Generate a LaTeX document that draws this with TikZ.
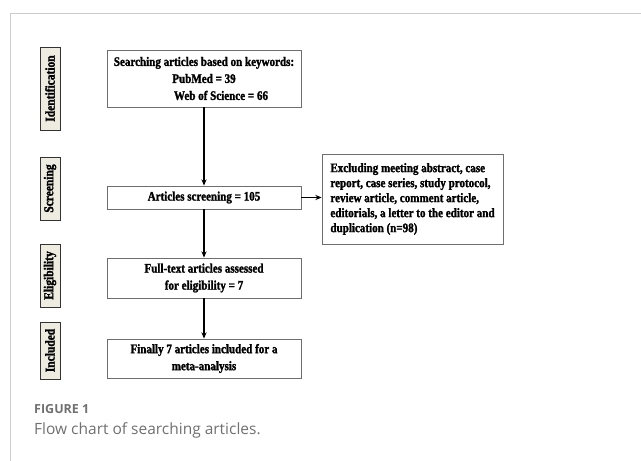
\documentclass[tikz,border=0pt]{standalone}
\usepackage{fontspec}
\setmainfont{Liberation Serif}
\newfontfamily\boxfont[FakeStretch=0.85, FakeBold=1.6, UprightFont=*-Bold]{Liberation Serif}
\newfontfamily\capfont{Open Sans}
\usepackage{tikz}
\usepackage{xcolor}
\usetikzlibrary{arrows.meta, positioning, calc}
\definecolor{cFrame}{RGB}{204,204,204}
\definecolor{cStage}{RGB}{238,236,225}
\definecolor{cEdge}{RGB}{110,110,110}
\definecolor{cCap}{RGB}{112,112,112}
\tikzset{
	stagebox/.style ={rectangle, draw=black!80, line width=0.8pt, fill=cStage, rotate=90, minimum height=20pt, inner sep=0pt, font=\boxfont\fontsize{13.5}{14}\selectfont},
	flowbox/.style  ={rectangle, draw=cEdge, line width=0.8pt, minimum width=194pt, inner sep=0pt, align=center, font=\boxfont\fontsize{13}{17}\selectfont},
	exclbox/.style  ={rectangle, draw=cEdge, line width=0.8pt, minimum width=181pt, minimum height=90pt, inner sep=0pt, inner xsep=4pt, align=left, font=\boxfont\fontsize{13}{15}\selectfont},
	flowarrow/.style={-{Stealth[length=2.2mm, width=1.8mm]}, line width=1.1pt},
}
\begin{document}
\begin{tikzpicture}[x=1pt, y=-1pt]
	\useasboundingbox (0,0) rectangle (641,461);
	% frame of the figure panel
	\draw[cFrame, line width=0.8pt] (641,13) -- (10,13) -- (10,461);
	% stages
	\node[stagebox, minimum width=83pt] (ident) at (50,88.5) {Identification};
	\node[stagebox, minimum width=63pt] (scrst) at (50,188.5) {Screening};
	\node[stagebox, minimum width=63pt] (elig)  at (50,275.5) {Eligibility};
	\node[stagebox, minimum width=57pt] (incl)  at (50,350.5) {Included};
	% flow
	\node[flowbox, minimum height=57pt] (search) at (204,78.5) {Searching articles based on keywords:\\PubMed = 39\\\hspace*{34pt}Web of Science = 66};
	\node[flowbox, minimum height=23pt] (screen) at (204,197.5) {Articles screening = 105};
	\node[flowbox, minimum height=40pt] (full)   at (204,278) {Full-text articles assessed\\for eligibility = 7};
	\node[flowbox, minimum height=39pt] (final)  at (204,358.5) {Finally 7 articles included for a\\meta-analysis};
	\node[exclbox] (excl) at (412.5,199) {Excluding meeting abstract, case\\report, case series, study protocol,\\review article, comment article,\\editorials, a letter to the editor and\\duplication (n=98)};
	\draw[flowarrow] (search) -- (screen);
	\draw[flowarrow] (screen) -- (full);
	\draw[flowarrow] (full) -- (final);
	\draw[flowarrow] (screen.east) -- (screen.east -| excl.west);
	% caption
	\node[anchor=base west, inner sep=0pt, text=cCap, font=\capfont\fontsize{12.5}{14}\selectfont\bfseries] (fig) at (34,413) {FIGURE 1};
	\node[anchor=base west, inner sep=0pt, text=cCap, font=\capfont\fontsize{15.5}{18}\selectfont] (cap) at (34,434) {Flow chart of searching articles.};
\end{tikzpicture}
\end{document}
